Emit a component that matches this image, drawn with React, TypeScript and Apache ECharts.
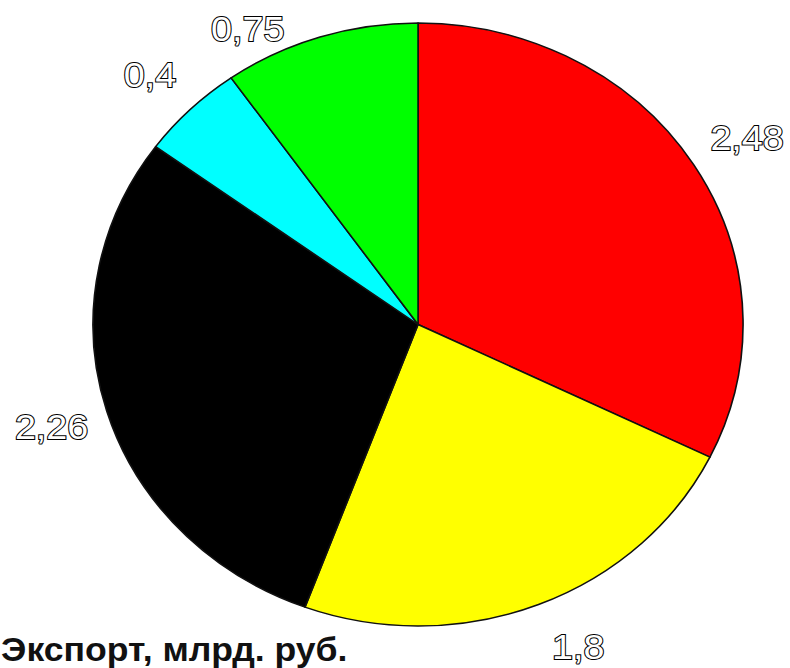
import React, { useEffect, useRef } from "react";
import * as echarts from "echarts";

const categories = ["A", "B", "C", "D", "E"];
const values = [2.48, 1.8, 2.26, 0.4, 0.75];
const colors = ["#ff0000", "#ffff00", "#000000", "#00ffff", "#00ff00"];
const titleText = "Экспорт, млрд. руб.";

const SX = 1.078;

export default function App() {
  const ref = useRef<HTMLDivElement>(null);
  useEffect(() => {
    if (!ref.current) return;
    const chart = echarts.init(ref.current, null, { renderer: "svg" });
    const data = categories.map((c, i) => ({ name: c, value: values[i], itemStyle: { color: colors[i] } }));
    const nudges: Record<number, [number, number]> = {
      0: [4, 1],
      1: [17, -7],
      3: [0, 4],
      4: [-51, 43],
    };
    chart.setOption({
      animation: false,
      backgroundColor: "#ffffff",
      title: {
        text: titleText,
        left: 1,
        top: 633,
        padding: 0,
        textStyle: {
          fontFamily: "'Liberation Sans', Arial, sans-serif",
          fontWeight: "bold",
          fontSize: 33,
          lineHeight: 33,
          color: "#111",
        },
      },
      series: [
        {
          type: "pie",
          center: [387.8, 324.5],
          radius: 301.5,
          startAngle: 90,
          clockwise: true,
          silent: true,
          label: { show: false },
          labelLine: { show: false },
          itemStyle: { borderColor: "#111", borderWidth: 1.5 },
          data,
        },
        {
          type: "pie",
          center: [387.8, 324.5],
          radius: [330, 374],
          startAngle: 90,
          clockwise: true,
          silent: true,
          itemStyle: { color: "rgba(0,0,0,0)" },
          labelLine: { show: false },
          label: {
            show: true,
            position: "inside",
            formatter: (p: any) => String(p.value).replace(".", ","),
            fontFamily: "'Liberation Sans', Arial, sans-serif",
            fontSize: 35,
            lineHeight: 35,
            color: "#ffffff",
            textBorderColor: "#000",
            textBorderWidth: 2,
          },
          labelLayout: (p: any) => {
            const n = nudges[p.dataIndex];
            return n ? { dx: n[0], dy: n[1] } : {};
          },
          data: categories.map((c, i) => ({ name: c, value: values[i] })),
        },
      ],
    });
    return () => chart.dispose();
  }, []);
  return (
    <div style={{ position: "absolute", left: 0, top: 0, width: 790, height: 668, overflow: "hidden", background: "#fff" }}>
      <div
        ref={ref}
        style={{ width: Math.round(790 / SX), height: 668, transform: `scaleX(${SX})`, transformOrigin: "0 0" }}
      />
    </div>
  );
}
